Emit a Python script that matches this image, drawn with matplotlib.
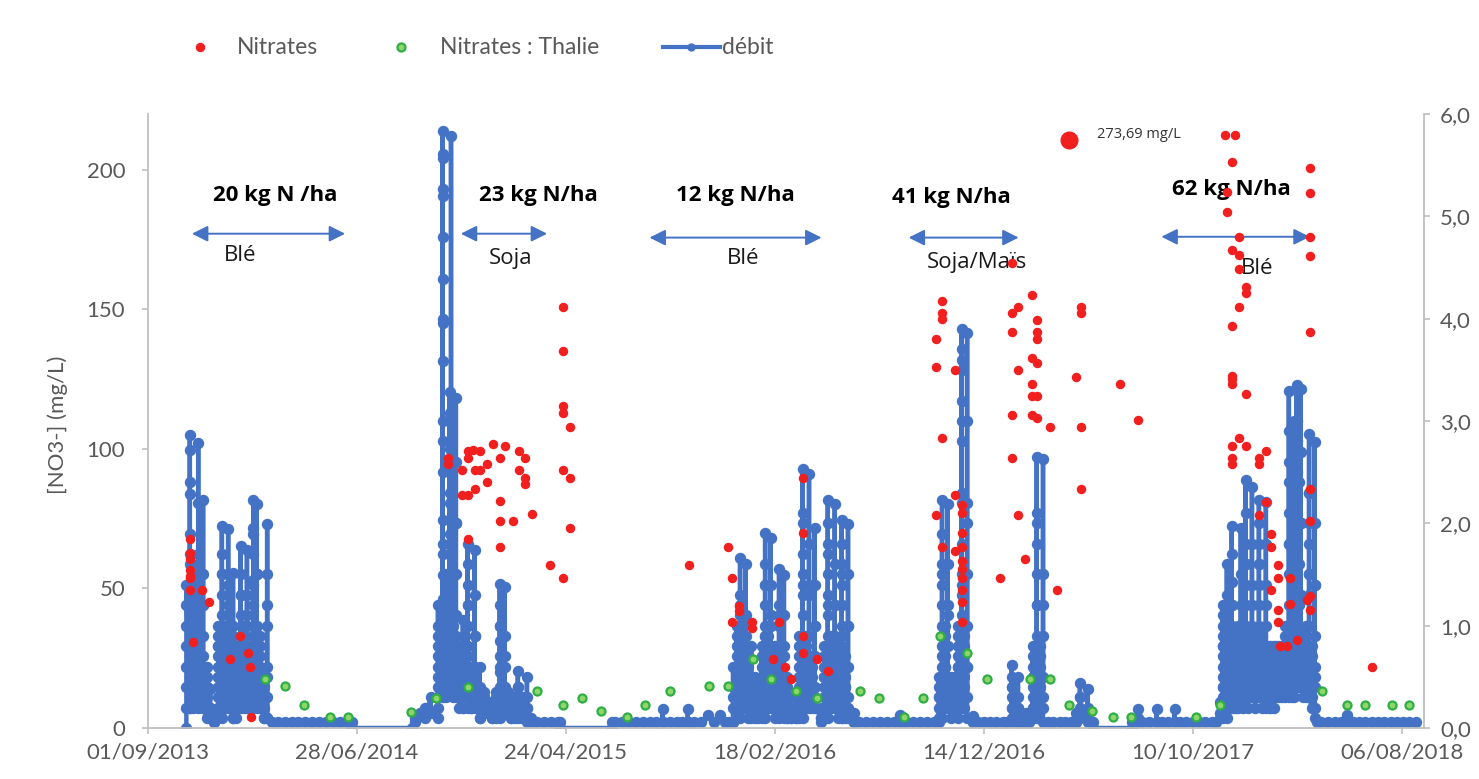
import pandas as pd
import matplotlib
matplotlib.use('Agg')
import matplotlib.pyplot as plt
from matplotlib.lines import Line2D

# ---- data ----
# débit (right axis): flow events, for each date the stack of values drawn there
debit_dates = [
    # autumn-winter 2013/14
    '2013-10-26', '2013-10-31', '2013-11-05', '2013-11-12', '2013-11-19', '2013-11-24',
    '2013-11-29', '2013-12-05', '2013-12-11', '2013-12-16', '2013-12-20', '2013-12-25',
    '2014-01-01', '2014-01-06', '2014-01-12', '2014-01-17', '2014-01-21', '2014-01-25',
    '2014-01-30', '2014-02-04', '2014-02-09', '2014-02-14', '2014-02-19', '2014-02-26',
    '2014-06-21', '2014-09-15', '2014-09-19', '2014-09-26', '2014-10-03', '2014-10-12',
    # winter 2014/15
    '2014-10-22', '2014-10-29', '2014-11-03', '2014-11-08', '2014-11-10', '2014-11-13',
    '2014-11-17', '2014-11-22', '2014-11-27', '2014-12-04', '2014-12-09', '2014-12-14',
    '2014-12-21', '2014-12-28', '2015-01-08', '2015-01-14', '2015-01-19', '2015-01-26',
    '2015-01-31', '2015-02-04', '2015-02-10', '2015-02-14', '2015-02-20', '2015-02-27',
    '2015-03-05', '2015-04-15', '2015-06-29', '2015-09-10', '2015-10-16', '2015-11-14',
    '2015-12-01', '2015-12-20',
    # winter 2015/16
    '2015-12-25', '2015-12-30', '2016-01-03', '2016-01-07', '2016-01-11', '2016-01-15',
    '2016-01-20', '2016-01-25', '2016-01-30', '2016-02-04', '2016-02-08', '2016-02-12',
    '2016-02-18', '2016-02-24', '2016-03-02', '2016-03-07', '2016-03-12', '2016-03-20',
    '2016-03-24', '2016-03-29', '2016-04-03', '2016-04-07', '2016-04-11', '2016-04-15',
    '2016-04-24', '2016-04-29', '2016-05-04', '2016-05-09', '2016-05-14', '2016-05-19',
    '2016-05-24', '2016-05-28', '2016-06-02', '2016-06-10', '2016-08-15',
    # winter 2016/17
    '2016-10-10', '2016-10-15', '2016-10-19', '2016-10-23', '2016-10-28', '2016-11-02',
    '2016-11-07', '2016-11-12', '2016-11-16', '2016-11-20', '2016-11-28', '2017-01-23',
    '2017-01-27', '2017-02-01', '2017-02-12', '2017-02-22', '2017-02-28', '2017-03-04',
    '2017-03-09', '2017-04-25', '2017-05-01', '2017-05-12', '2017-05-20', '2017-07-15',
    '2017-07-23', '2017-08-19', '2017-09-14', '2017-11-18',
    # winter 2017/18
    '2017-11-22', '2017-11-28', '2017-12-02', '2017-12-05', '2017-12-08', '2017-12-11',
    '2017-12-14', '2017-12-18', '2017-12-21', '2017-12-25', '2017-12-29', '2018-01-03',
    '2018-01-08', '2018-01-13', '2018-01-18', '2018-01-23', '2018-01-27', '2018-01-30',
    '2018-02-03', '2018-02-07', '2018-02-11', '2018-02-15', '2018-02-20', '2018-02-25',
    '2018-03-01', '2018-03-04', '2018-03-08', '2018-03-11', '2018-03-14', '2018-03-18',
    '2018-03-22', '2018-03-26', '2018-03-30', '2018-04-03', '2018-04-07', '2018-05-19',
]
debit_stacks = [
    [0.0, 0.2, 0.4, 0.6, 0.8, 1.0, 1.2, 1.4],
    [0.2, 0.3, 0.4, 0.5, 0.6, 0.7, 0.8, 0.9, 1.0, 1.1, 1.2, 1.4, 1.6, 1.9, 2.29, 2.72, 2.86, 2.4, 1.7, 1.1, 0.7, 0.4, 0.2],
    [0.2, 0.3, 0.4, 0.5, 0.6, 0.7, 0.8, 0.9, 1.0, 1.2, 1.5, 1.2, 0.9, 0.6, 0.3],
    [0.2, 0.4, 0.6, 0.8, 1.0, 1.3, 1.7, 2.2, 2.78, 1.6, 0.6, 0.3],
    [0.2, 0.3, 0.5, 0.7, 0.9, 1.2, 1.5, 2.23, 1.2, 0.5, 0.2],
    [0.1, 0.2, 0.3, 0.4, 0.5, 0.6, 0.4, 0.2],
    [0.1, 0.2, 0.38, 0.2, 0.1],
    [0.06, 0.15, 0.06],
    [0.1, 0.2, 0.3, 0.4, 0.5, 0.6, 0.7, 0.8, 0.9, 1.0, 0.8, 0.5, 0.2],
    [0.1, 0.2, 0.3, 0.4, 0.5, 0.6, 0.7, 0.8, 0.9, 1.0, 1.1, 1.3, 1.5, 1.7, 1.97, 1.5, 1.0, 0.6, 0.3],
    [0.2, 0.4, 0.6, 0.8, 1.0, 0.7, 0.4],
    [0.3, 0.5, 0.7, 0.9, 1.1, 1.4, 1.94, 1.2, 0.5, 0.2],
    [0.1, 0.3, 0.5, 0.7, 1.0, 1.51, 0.9, 0.4, 0.1],
    [0.1, 0.2, 0.3, 0.4, 0.5, 0.6, 0.7, 0.8, 0.5, 0.2],
    [0.2, 0.3, 0.4, 0.5, 0.6, 0.7, 0.8, 0.9, 1.1, 1.3, 1.5, 1.78, 1.3, 0.8, 0.4],
    [0.2, 0.4, 0.6, 0.8, 1.0, 0.6, 0.3],
    [0.2, 0.4, 0.6, 0.8, 1.0, 1.3, 1.74, 1.1, 0.5, 0.2],
    [0.2, 0.3, 0.4, 0.5, 0.6, 0.7, 0.8, 0.5, 0.2],
    [0.2, 0.3, 0.4, 0.5, 0.6, 0.7, 0.8, 0.9, 1.0, 1.2, 1.45, 1.7, 1.95, 2.23, 1.9, 1.4, 0.9, 0.5, 0.2],
    [0.2, 0.4, 0.6, 0.8, 1.0, 1.5, 2.19, 1.5, 0.8, 0.4],
    [0.2, 0.3, 0.4, 0.5, 0.6, 0.7, 0.8, 0.9, 0.6, 0.3],
    [0.1, 0.2, 0.3, 0.4, 0.5, 0.3, 0.1],
    [0.1, 0.3, 0.6, 1.0, 1.5, 1.99, 1.2, 0.5, 0.1],
    [0.06],
    [0.06, 0.0], [0.0], [0.06, 0.1], [0.15], [0.2, 0.1], [0.3, 0.15],
    [0.1, 0.2, 0.3, 0.4, 0.5, 0.6, 0.7, 0.8, 0.9, 1.0, 1.2],
    [0.3, 0.4, 0.5, 0.6, 0.7, 0.83, 1.0, 1.26, 1.49, 1.7, 2.03, 2.5, 3.0, 3.59, 3.96, 4.39, 4.8, 5.27,
     5.57, 5.61, 5.83, 5.2, 4.0, 2.8, 1.8, 1.0, 0.5],
    [0.3, 0.4, 0.5, 0.6, 0.7, 0.8, 0.9, 1.0, 1.1, 1.2, 1.3, 1.4, 1.5, 1.2, 0.8, 0.4],
    [0.4, 0.6, 0.8, 1.0, 1.2, 1.5, 1.9, 2.3, 2.73, 3.08, 3.28, 2.2, 1.0],
    [0.5, 5.78, 3.0, 1.0, 0.4],
    [0.3, 0.4, 0.5, 0.6, 0.7, 0.8, 0.9, 1.0, 0.7, 0.4],
    [0.3, 0.5, 0.7, 0.9, 1.1, 1.5, 2.0, 2.6, 3.22, 2.0, 0.8],
    [0.2, 0.3, 0.4, 0.5, 0.6, 0.7, 0.8, 0.5, 0.3],
    [0.2, 0.4, 0.6, 0.8, 1.06, 0.5, 0.2],
    [0.2, 0.3, 0.4, 0.5, 0.6, 0.7, 0.8, 1.0, 1.2, 1.4, 1.6, 1.8, 1.2, 0.7, 0.3],
    [0.2, 0.3, 0.4, 0.5, 0.6, 0.4, 0.2],
    [0.2, 0.4, 0.6, 0.9, 1.3, 1.74, 0.9, 0.3],
    [0.1, 0.2, 0.3, 0.4, 0.6, 0.3, 0.1],
    [0.15, 0.2, 0.25, 0.3, 0.35, 0.15],
    [0.1, 0.15, 0.2, 0.25, 0.1],
    [0.1, 0.2, 0.3, 0.35, 0.2],
    [0.1, 0.2, 0.3, 0.4, 0.55, 0.7, 0.85, 1.0, 1.2, 1.41, 1.0, 0.6, 0.2],
    [0.2, 0.3, 0.4, 0.6, 0.9, 1.38, 0.7, 0.2],
    [0.15, 0.25, 0.35, 0.25, 0.15],
    [0.1, 0.2, 0.3, 0.1],
    [0.1, 0.2, 0.3, 0.2],
    [0.1, 0.2, 0.3, 0.4, 0.56, 0.4, 0.2],
    [0.1, 0.2, 0.3, 0.2],
    [0.1, 0.2, 0.3, 0.5, 0.2, 0.06],
    [0.1, 0.06],
    [0.06, 0.0], [0.0, 0.06], [0.06, 0.19, 0.06], [0.06, 0.19, 0.06], [0.13], [0.13],
    [0.06, 0.2, 0.4, 0.6, 0.3, 0.06],
    [0.1, 0.2, 0.3, 0.4, 0.5, 0.6, 0.7, 0.8, 0.9, 1.0, 0.6, 0.3],
    [0.1, 0.2, 0.3, 0.4, 0.5, 0.6, 0.7, 0.8, 0.9, 1.0, 1.1, 1.3, 1.66, 1.2, 0.8, 0.4, 0.2],
    [0.2, 0.3, 0.4, 0.5, 0.6, 0.7, 0.8, 0.9, 1.0, 0.6, 0.3],
    [0.2, 0.4, 0.6, 0.8, 1.1, 1.60, 0.9, 0.4],
    [0.1, 0.2, 0.3, 0.4, 0.5, 0.6, 0.7, 0.4],
    [0.1, 0.2, 0.3, 0.5, 0.8, 0.3],
    [0.1, 0.2, 0.3, 0.4, 0.5, 0.3],
    [0.1, 0.2, 0.3, 0.4, 0.15],
    [0.1, 0.2, 0.3, 0.4, 0.5, 0.6, 0.7, 0.8, 0.4],
    [0.1, 0.2, 0.3, 0.4, 0.5, 0.6, 0.7, 0.8, 0.9, 1.0, 1.2, 1.4, 1.6, 1.91, 1.4, 0.9, 0.5, 0.2],
    [0.2, 0.3, 0.4, 0.5, 0.6, 0.7, 0.8, 0.9, 0.6, 0.3],
    [0.2, 0.4, 0.6, 0.8, 1.1, 1.4, 1.86, 1.0, 0.3],
    [0.1, 0.2, 0.3, 0.4, 0.5, 0.6, 0.7, 0.8, 0.5],
    [0.1, 0.2, 0.3, 0.4, 0.5, 0.6, 0.7, 0.8, 1.0, 1.2, 1.55, 1.1, 0.6, 0.2],
    [0.1, 0.3, 0.5, 0.8, 1.1, 1.49, 0.7, 0.2],
    [0.1, 0.2, 0.3, 0.4, 0.5, 0.3, 0.1],
    [0.1, 0.2, 0.3, 0.1],
    [0.1, 0.2, 0.3, 0.2, 0.1],
    [0.1, 0.2, 0.3, 0.4, 0.5, 0.6, 0.7, 0.8, 0.9, 0.5],
    [0.1, 0.2, 0.3, 0.4, 0.5, 0.6, 0.7, 0.8, 0.9, 1.1, 1.3, 1.5, 1.7, 2.1, 2.53, 2.0, 1.4, 0.8, 0.3],
    [0.2, 0.3, 0.4, 0.5, 0.6, 0.7, 0.8, 0.9, 0.6, 0.3],
    [0.2, 0.4, 0.6, 0.9, 1.3, 1.8, 2.48, 1.4, 0.5],
    [0.2, 0.3, 0.4, 0.5, 0.6, 0.7, 0.4],
    [0.2, 0.4, 0.7, 1.0, 1.4, 1.95, 1.0, 0.3],
    [0.06, 0.1, 0.2, 0.1],
    [0.1, 0.2, 0.3, 0.4, 0.5, 0.6, 0.7, 0.8, 0.5],
    [0.1, 0.2, 0.3, 0.4, 0.5, 0.6, 0.7, 0.8, 0.9, 1.1, 1.3, 1.5, 1.7, 2.0, 2.23, 1.8, 1.2, 0.6, 0.2],
    [0.2, 0.3, 0.4, 0.5, 0.6, 0.7, 0.8, 0.9, 0.6, 0.3],
    [0.2, 0.4, 0.6, 0.9, 1.2, 1.6, 2.19, 1.2, 0.3],
    [0.1, 0.2, 0.3, 0.4, 0.5, 0.6, 0.7, 0.8, 0.5],
    [0.1, 0.2, 0.3, 0.4, 0.5, 0.6, 0.7, 0.8, 1.0, 1.2, 1.4, 1.6, 1.8, 2.03, 1.5, 0.9, 0.4, 0.1],
    [0.1, 0.2, 0.3, 0.4, 0.5, 0.6, 0.7, 0.4],
    [0.1, 0.3, 0.6, 1.0, 1.5, 1.99, 1.0, 0.2],
    [0.06, 0.15, 0.06],
    [0.06, 0.13, 0.06],
    [0.06, 0.1, 0.2, 0.3, 0.4, 0.5, 0.3],
    [0.1, 0.2, 0.3, 0.4, 0.5, 0.6, 0.7, 0.8, 0.9, 1.0, 1.2, 1.4, 1.6, 1.9, 2.23, 1.5, 0.9, 0.4, 0.2],
    [0.2, 0.3, 0.4, 0.5, 0.6, 0.7, 0.8, 0.9, 1.0, 0.6, 0.3],
    [0.2, 0.5, 0.8, 1.2, 1.6, 2.19, 1.1, 0.3],
    [0.1, 0.2, 0.3, 0.4, 0.5, 0.3],
    [0.2, 0.3, 0.4, 0.5, 0.3],
    [0.1, 0.2, 0.3, 0.4, 0.5, 0.6, 0.7, 0.8, 0.9, 1.0, 0.6, 0.3],
    [0.2, 0.3, 0.4, 0.5, 0.6, 0.7, 0.8, 0.9, 1.0, 1.1, 1.3, 1.5, 1.8, 2.3, 2.8, 3.2, 3.5, 3.7, 3.9,
     3.6, 3.0, 2.2, 1.4, 0.8, 0.3],
    [0.2, 0.3, 0.4, 0.5, 0.6, 0.7, 0.8, 0.9, 1.0, 0.6, 0.3],
    [0.3, 0.6, 1.0, 1.5, 2.2, 3.0, 3.86, 2.0, 0.6, 0.1],
    [0.06, 0.12, 0.06],
    [0.06, 0.1, 0.2, 0.3, 0.4, 0.5, 0.62, 0.4, 0.2],
    [0.1, 0.2, 0.3, 0.4, 0.3, 0.1],
    [0.1, 0.2, 0.3, 0.5, 0.2, 0.06],
    [0.06, 0.15, 0.06],
    [0.1, 0.2, 0.3, 0.4, 0.5, 0.6, 0.7, 0.8, 0.5, 0.2],
    [0.1, 0.2, 0.3, 0.4, 0.5, 0.6, 0.7, 0.8, 0.9, 1.2, 1.5, 1.8, 2.1, 2.65, 2.0, 1.2, 0.5, 0.2],
    [0.2, 0.3, 0.4, 0.5, 0.6, 0.7, 0.8, 0.5, 0.2],
    [0.2, 0.5, 0.9, 1.5, 2.63, 1.2, 0.3, 0.06],
    [0.06, 0.15, 0.06],
    [0.1, 0.2, 0.3, 0.44, 0.3, 0.15],
    [0.1, 0.2, 0.38, 0.15, 0.06],
    [0.06, 0.0], [0.0, 0.06], [0.06, 0.19, 0.1], [0.06, 0.19, 0.06], [0.06, 0.19, 0.06],
    [0.1, 0.25, 0.15],
    [0.1, 0.2, 0.3, 0.4, 0.5, 0.6, 0.7, 0.8, 0.9, 1.0, 1.1, 1.2, 0.8, 0.4],
    [0.1, 0.2, 0.3, 0.4, 0.5, 0.6, 0.7, 0.8, 0.9, 1.0, 1.1, 1.3, 1.6, 1.1, 0.7, 0.4, 0.2],
    [0.2, 0.3, 0.4, 0.5, 0.6, 0.7, 0.8, 0.9, 1.0, 0.6, 0.3],
    [0.2, 0.4, 0.6, 0.8, 1.0, 1.2, 1.43, 1.7, 1.97, 1.2, 0.6, 0.3],
    [0.2, 0.3, 0.4, 0.5, 0.6, 0.7, 0.8, 0.9, 0.5],
    [0.2, 0.3, 0.4, 0.5, 0.6, 0.7, 0.4],
    [0.2, 0.3, 0.4, 0.5, 0.6, 0.7, 0.8, 0.9, 1.0, 0.6],
    [0.3, 0.5, 0.7, 0.9, 1.2, 1.5, 1.95, 1.0, 0.4],
    [0.2, 0.3, 0.4, 0.5, 0.6, 0.7, 0.8, 0.9, 0.5],
    [0.3, 0.4, 0.5, 0.6, 0.7, 0.8, 0.9, 1.0, 1.2, 1.4, 1.6, 1.8, 2.1, 2.42, 1.6, 0.8, 0.3],
    [0.2, 0.3, 0.4, 0.5, 0.6, 0.7, 0.8, 0.9, 0.5],
    [0.3, 0.5, 0.7, 1.0, 1.4, 1.8, 2.35, 1.2, 0.4],
    [0.2, 0.3, 0.4, 0.5, 0.6, 0.7, 0.8, 0.9, 0.6],
    [0.3, 0.4, 0.5, 0.6, 0.7, 0.8, 0.9, 1.0, 1.2, 1.4, 1.6, 1.8, 2.0, 2.23, 1.6, 0.9, 0.4],
    [0.2, 0.3, 0.4, 0.5, 0.6, 0.7, 0.8, 0.9, 0.5],
    [0.3, 0.5, 0.7, 1.0, 1.4, 1.8, 2.21, 1.2, 0.5, 0.2],
    [0.2, 0.3, 0.4, 0.5, 0.6, 0.7, 0.8, 0.6],
    [0.2, 0.3, 0.4, 0.5, 0.6, 0.7, 0.8, 0.6],
    [0.2, 0.3, 0.4, 0.5, 0.6, 0.7, 0.8, 0.5],
    [0.3, 0.4, 0.5, 0.6, 0.7, 0.8, 0.5],
    [0.3, 0.4, 0.5, 0.6, 0.7, 0.8, 0.6],
    [0.3, 0.4, 0.5, 0.6, 0.7, 0.8, 0.6],
    [0.3, 0.4, 0.5, 0.6, 0.7, 0.8, 0.9, 1.0, 0.6],
    [0.3, 0.4, 0.5, 0.6, 0.7, 0.8, 1.0, 1.2, 1.5, 1.8, 2.1, 2.4, 2.9, 3.29, 2.6, 1.8, 1.0, 0.5],
    [0.3, 0.4, 0.5, 0.6, 0.7, 0.8, 0.9, 1.0, 1.2, 0.7],
    [0.3, 0.5, 0.7, 0.9, 1.2, 1.6, 2.0, 2.5, 3.0, 2.5, 1.5, 0.7],
    [0.4, 0.6, 0.8, 1.0, 1.2, 1.6, 2.0, 2.5, 3.0, 3.35, 2.8, 2.0, 1.2, 0.5],
    [0.4, 0.6, 0.8, 1.0, 1.3, 1.6, 2.0, 2.4, 2.0, 1.2, 0.6],
    [0.4, 0.8, 1.3, 2.0, 2.7, 3.31, 2.0, 0.8],
    [0.3, 0.4, 0.5, 0.6, 0.7, 0.8, 0.9, 0.5],
    [0.3, 0.4, 0.5, 0.6, 0.7, 0.8, 0.9, 1.0, 0.6],
    [0.3, 0.4, 0.5, 0.6, 0.7, 0.8, 1.0, 1.3, 1.5, 1.8, 2.0, 2.3, 2.87, 2.3, 1.5, 0.7, 0.3],
    [0.2, 0.3, 0.4, 0.5, 0.6, 0.7, 0.8, 0.5],
    [0.2, 0.4, 0.6, 0.9, 1.4, 2.0, 2.79, 1.4, 0.5, 0.1],
    [0.06],
    [0.06, 0.13, 0.06],
]

# débit base flow between events (right axis)
base_dates = [
    '2014-03-06', '2014-03-16', '2014-03-26', '2014-04-05', '2014-04-15', '2014-04-25',
    '2014-05-05', '2014-05-15', '2014-05-25', '2014-06-04', '2014-06-14',
    '2015-03-13', '2015-03-23', '2015-04-02', '2015-04-12',
    '2015-07-03', '2015-07-13', '2015-07-23', '2015-08-02', '2015-08-12', '2015-08-22',
    '2015-09-01', '2015-09-20', '2015-09-30', '2015-10-08', '2015-10-25', '2015-11-04',
    '2015-11-22', '2015-12-08', '2015-12-14',
    '2016-06-18', '2016-06-28', '2016-07-08', '2016-07-18', '2016-07-28', '2016-08-07',
    '2016-08-24', '2016-09-03', '2016-09-13', '2016-09-23', '2016-10-03',
    '2016-12-05', '2016-12-14', '2016-12-23', '2017-01-01', '2017-01-10', '2017-01-17',
    '2017-02-06', '2017-02-17', '2017-03-16', '2017-03-24', '2017-04-02', '2017-04-10',
    '2017-04-18',
    '2017-07-19', '2017-07-29', '2017-08-08', '2017-08-27', '2017-09-05', '2017-09-22',
    '2017-10-01', '2017-10-10', '2017-10-19', '2017-10-28', '2017-11-06', '2017-11-13',
    '2018-04-12', '2018-04-22', '2018-05-02', '2018-05-11', '2018-05-28', '2018-06-06',
    '2018-06-15', '2018-06-24', '2018-07-03', '2018-07-12', '2018-07-21', '2018-07-30',
    '2018-08-08', '2018-08-17', '2018-08-26',
]
base_values = [
    0.06, 0.06, 0.06, 0.06, 0.06, 0.06, 0.06, 0.06, 0.06, 0.06, 0.06,
    0.06, 0.06, 0.06, 0.06,
    0.06, 0.06, 0.06, 0.06, 0.06, 0.06, 0.06, 0.06, 0.06, 0.06, 0.06, 0.06, 0.06, 0.06, 0.06,
    0.06, 0.06, 0.06, 0.06, 0.06, 0.06, 0.06, 0.06, 0.06, 0.06, 0.06,
    0.06, 0.06, 0.06, 0.06, 0.06, 0.06, 0.06, 0.06, 0.06, 0.06, 0.06, 0.06, 0.06,
    0.06, 0.06, 0.06, 0.06, 0.06, 0.06, 0.06, 0.06, 0.06, 0.06, 0.06, 0.06,
    0.06, 0.06, 0.06, 0.06, 0.06, 0.06, 0.06, 0.06, 0.06, 0.06, 0.06, 0.06, 0.06, 0.06, 0.06,
]

# Nitrates (left axis, mg/L)
nitrate_dates = [
    '2013-10-31', '2013-11-04', '2013-11-17', '2013-11-27', '2013-12-27', '2014-01-11',
    '2014-01-22', '2014-01-25', '2014-01-27', '2014-11-05', '2014-11-26', '2014-12-04',
    '2014-12-11', '2014-12-14', '2014-12-21', '2014-12-31', '2015-01-09', '2015-01-19',
    '2015-01-26', '2015-02-07', '2015-02-15', '2015-02-24', '2015-03-06', '2015-04-01',
    '2015-04-20', '2015-04-30', '2015-10-17', '2015-12-12', '2015-12-19', '2015-12-28',
    '2016-01-16', '2016-02-15', '2016-02-24', '2016-03-03', '2016-03-12', '2016-03-29',
    '2016-04-18', '2016-05-04', '2016-10-07', '2016-10-15', '2016-11-02', '2016-11-12',
    '2017-01-06', '2017-01-23', '2017-02-01', '2017-02-11', '2017-02-21', '2017-02-28',
    '2017-03-19', '2017-03-29', '2017-04-25', '2017-05-02', '2017-06-27', '2017-07-23',
    '2017-11-26', '2017-11-28', '2017-12-06', '2017-12-09', '2017-12-15', '2017-12-16',
    '2017-12-25', '2018-01-13', '2018-01-23', '2018-01-30', '2018-02-09', '2018-02-12',
    '2018-02-22', '2018-02-26', '2018-03-08', '2018-03-23', '2018-03-27', '2018-06-25',
]
nitrate_stacks = [
    [67.6, 62.6, 60.5, 56.5, 54.4, 53.7, 49.4], [30.8], [49.4], [45.1], [24.7], [33.0],
    [26.8], [21.8], [4.0], [96.6, 94.5], [92.3, 83.4], [99.1, 96.6, 83.4, 67.6],
    [99.5], [92.3, 85.5], [99.1, 92.3], [94.5, 88.0], [101.6], [96.6, 81.2, 74.0, 64.8],
    [101.2], [74.0], [99.1, 92.3], [96.6, 89.4, 87.3], [76.6], [58.3],
    [151.0, 135.2, 115.2, 113.0, 92.3, 53.7], [108.0, 89.4, 71.6], [58.3], [64.8], [53.7, 37.9],
    [43.6, 42.0],
    [37.9, 35.8], [24.7], [37.9], [21.8], [17.5], [89.4, 69.8, 33.0, 26.8],
    [24.7], [20.4], [139.5, 129.2, 76.2], [153.0, 148.8, 146.7, 103.8, 64.8], [128.4, 83.4, 63.3],
    [79.8, 76.9, 69.8, 64.8, 59.7, 57.0, 53.7, 49.4, 45.1, 37.9],
    [53.7], [166.7, 148.8, 142.0, 112.3, 96.6], [151.0, 128.4, 76.2], [60.5],
    [155.3, 132.7, 123.4, 119.1, 112.3], [146.3, 142.0, 139.5, 130.6, 119.1, 110.9],
    [108.0], [49.4], [125.9], [151.0, 148.8, 108.0, 85.5], [123.4], [110.2],
    [212.3], [192.0, 185.0], [202.9, 171.4, 144.2, 126.0, 124.9, 123.4, 101.2, 96.6, 94.5], [212.3],
    [169.6], [175.8, 164.6, 151.0, 103.8],
    [158.1, 156.0, 119.5, 101.2], [96.6, 94.5, 76.2], [99.1, 80.9], [69.4, 64.8, 49.4],
    [58.3, 53.7, 42.2, 37.9], [29.3],
    [29.3], [53.7, 44.4], [31.5], [45.8], [200.7, 191.8, 175.8, 169.2, 142.0, 85.5, 74.0, 47.2, 42.2],
    [21.8],
]

# Nitrates : Thalie (left axis, mg/L)
thalie_dates = [
    '2014-02-16', '2014-03-16', '2014-04-13', '2014-05-20', '2014-06-15', '2014-09-13',
    '2014-10-19', '2014-12-04', '2015-03-13', '2015-04-20', '2015-05-17', '2015-06-13',
    '2015-07-20', '2015-08-15', '2015-09-20', '2015-11-15', '2015-12-12', '2016-01-17',
    '2016-02-13', '2016-03-20', '2016-04-18', '2016-06-19', '2016-07-16', '2016-08-21',
    '2016-09-17', '2016-10-12', '2016-11-20', '2016-12-18', '2017-02-19', '2017-03-19',
    '2017-04-15', '2017-05-19', '2017-06-17', '2017-07-14', '2017-10-14', '2017-11-18',
    '2018-04-13', '2018-05-20', '2018-06-15', '2018-07-23', '2018-08-17',
]
thalie_values = [
    17.5, 15.0, 8.2, 4.0, 4.0, 5.7,
    10.7, 14.6, 13.2, 8.2, 10.7, 6.0,
    4.0, 8.2, 13.2, 15.0, 15.0, 24.7,
    17.5, 13.2, 10.7, 13.2, 10.7, 4.0,
    10.7, 33.0, 26.8, 17.5, 17.5, 17.5,
    8.2, 6.0, 4.0, 4.0, 4.0, 8.2,
    13.2, 8.2, 8.2, 8.2, 8.2,
]

# off-scale nitrate value, shown as a big dot near the top
outlier_date = '2017-04-16'
outlier_label = '273,69 mg/L'

# crop periods: fertiliser label, crop name, start, end
period_dose = ['20 kg N /ha', '23 kg N/ha', '12 kg N/ha', '41 kg N/ha', '62 kg N/ha']
period_crop = ['Blé', 'Soja', 'Blé', 'Soja/Maïs', 'Blé']
period_start = ['2013-11-03', '2014-11-24', '2015-08-22', '2016-08-28', '2017-08-26']
period_end = ['2014-06-11', '2015-03-28', '2016-04-25', '2017-02-02', '2018-03-27']

legend_labels = ['Nitrates', 'Nitrates : Thalie', 'débit']

# ---- layout / style ----
BLUE = '#4472C4'
RED = '#F21F1F'
GREEN_FACE = '#8CD66A'
GREEN_EDGE = '#2FAE45'
GREY = '#595959'
AXIS = '#BFBFBF'
TICKFONT = 'Lato'
ANNFONT = 'Open Sans'

# where the labels sit (date for the text centre, height in mg/L)
dose_x = ['2014-03-02', '2015-03-16', '2015-12-24', '2016-10-28', '2017-12-05']
dose_y = [190.7, 190.7, 190.7, 190.0, 193.0]
crop_x = ['2014-01-11', '2015-02-04', '2016-01-03', '2016-12-04', '2018-01-11']
crop_y = [169.2, 168.2, 168.2, 166.7, 164.6]
arrow_y = [177.1, 177.1, 175.7, 175.7, 176.0]


def flatten(dates, stacks):
    xs, ys = [], []
    for d, stack in zip(dates, stacks):
        for v in stack:
            xs.append(pd.Timestamp(d))
            ys.append(v)
    return xs, ys


ev_x, ev_y = flatten(debit_dates, debit_stacks)
deb = pd.DataFrame({'x': ev_x + list(pd.to_datetime(base_dates)), 'y': ev_y + base_values})
deb = deb.sort_values('x', kind='stable')
nit_x, nit_y = flatten(nitrate_dates, nitrate_stacks)
tha_x = pd.to_datetime(thalie_dates)

fig = plt.figure(figsize=(14.79, 7.79), dpi=100)
ax1 = fig.add_axes([0.1001, 0.0655, 0.8627, 0.7882])
ax2 = ax1.twinx()
ax1.set_zorder(ax2.get_zorder() + 1)
ax1.patch.set_visible(False)

# débit on the secondary axis
ax2.plot(deb['x'], deb['y'], color=BLUE, lw=3.2, marker='o', ms=7.2, mec=BLUE, mfc=BLUE, zorder=2)

# nitrates on the primary axis
ax1.plot(nit_x, nit_y, ls='none', marker='o', ms=5.8, color=RED, mec=RED, zorder=4)
ax1.plot(tha_x, thalie_values, ls='none', marker='o', ms=5.8, mfc=GREEN_FACE, mec=GREEN_EDGE,
         mew=1.6, zorder=4)
ax1.plot([pd.Timestamp(outlier_date)], [210.5], ls='none', marker='o', ms=12, color=RED, zorder=4)
ax1.text(pd.Timestamp(outlier_date) + pd.Timedelta(days=39), 212.5, outlier_label,
         fontsize=10.5, family=ANNFONT, color='#333333', va='center', ha='left', zorder=3)

# crop periods
for i in range(len(period_dose)):
    ax1.annotate('', xy=(pd.Timestamp(period_end[i]), arrow_y[i]),
                 xytext=(pd.Timestamp(period_start[i]), arrow_y[i]),
                 arrowprops=dict(arrowstyle='<|-|>', color=BLUE, lw=1.4, mutation_scale=24,
                                 shrinkA=0, shrinkB=0), zorder=1)
    ax1.text(pd.Timestamp(dose_x[i]), dose_y[i], period_dose[i], fontsize=16, fontweight='bold',
             family=ANNFONT, color='black', ha='center', va='center', zorder=1)
    ax1.text(pd.Timestamp(crop_x[i]), crop_y[i], period_crop[i], fontsize=16,
             family=ANNFONT, color='#1a1a1a', ha='center', va='center', zorder=1)

# axes
start = pd.Timestamp('2013-09-01')
ax1.set_xlim(start, start + pd.Timedelta(days=1832))
ticks = [start + pd.Timedelta(days=300 * i) for i in range(7)]
ax1.set_xticks(ticks)
ax1.set_xticklabels([t.strftime('%d/%m/%Y') for t in ticks])
ax1.set_ylim(0, 220)
ax1.set_yticks([0, 50, 100, 150, 200])
ax2.set_ylim(0, 6)
ax2.set_yticks(range(7))
ax2.set_yticklabels(['%d,0' % v for v in range(7)])

for sp in ['top', 'right']:
    ax1.spines[sp].set_visible(False)
for sp in ['top', 'left', 'bottom']:
    ax2.spines[sp].set_visible(False)
ax1.spines['left'].set_color(AXIS)
ax1.spines['bottom'].set_color(AXIS)
ax2.spines['right'].set_color(AXIS)
for sp in [ax1.spines['left'], ax1.spines['bottom'], ax2.spines['right']]:
    sp.set_linewidth(1.3)

ax1.tick_params(axis='y', length=4.5, color=AXIS, width=1.2, labelcolor=GREY, labelsize=16, pad=12)
ax1.tick_params(axis='x', length=4.5, color=AXIS, width=1.2, labelcolor=GREY, labelsize=16, pad=6)
ax2.tick_params(axis='y', length=4.5, color=AXIS, width=1.2, labelcolor=GREY, labelsize=16, pad=7)
for lab in ax1.get_xticklabels() + ax1.get_yticklabels() + ax2.get_yticklabels():
    lab.set_family(TICKFONT)

ax1.set_ylabel('[NO3-] (mg/L)', fontsize=16, color=GREY, family=TICKFONT)
ax1.yaxis.set_label_coords(-0.063, 0.493)

# legend drawn by hand at the top
ly = 1 - 47 / 779
fig.add_artist(Line2D([200 / 1479], [ly], marker='o', ms=5.8, color=RED, ls='none'))
fig.text(237 / 1479, ly, legend_labels[0], fontsize=16.5, color=GREY, family=TICKFONT, va='center')
fig.add_artist(Line2D([401 / 1479], [ly], marker='o', ms=5.8, mfc=GREEN_FACE, mec=GREEN_EDGE,
                      mew=1.6, ls='none'))
fig.text(440 / 1479, ly, legend_labels[1], fontsize=16.5, color=GREY, family=TICKFONT, va='center')
fig.add_artist(Line2D([663 / 1479, 720 / 1479], [ly, ly], color=BLUE, lw=3))
fig.add_artist(Line2D([691 / 1479], [ly], marker='o', ms=5, color=BLUE, ls='none'))
fig.text(722 / 1479, ly, legend_labels[2], fontsize=16.5, color=GREY, family=TICKFONT, va='center')

fig.savefig('out.png', dpi=100, facecolor='white')
